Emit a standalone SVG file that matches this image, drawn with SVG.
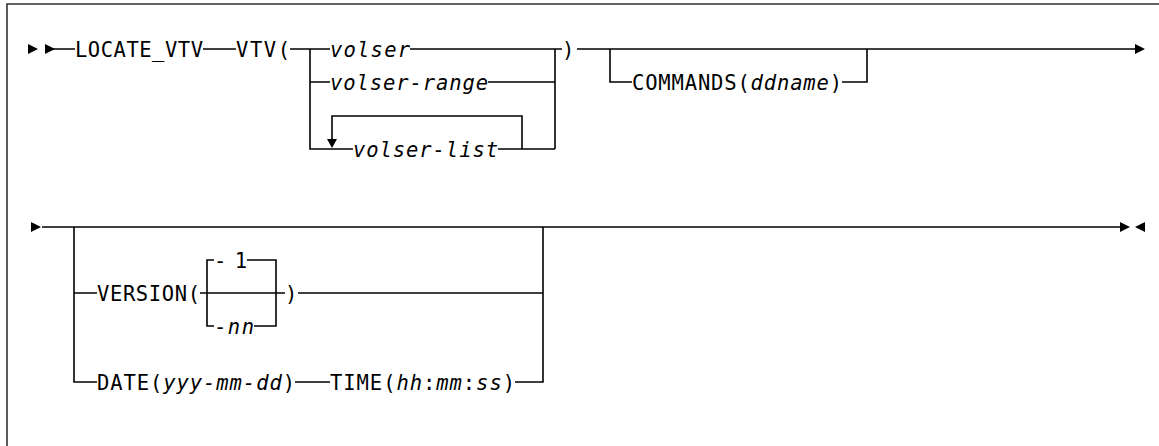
<svg xmlns="http://www.w3.org/2000/svg" width="1159" height="446" viewBox="0 0 1159 446">
<style>
.ln{fill:none;stroke:#000;stroke-width:1.6}
.fr{fill:none;stroke:#333;stroke-width:1.6}
text{font-family:"DejaVu Sans Mono","Liberation Mono",monospace;font-size:20.5px;fill:#000}
.i{font-style:italic}
.ah{fill:#000}
</style>
<defs>
<path id="ar" d="M0,-5 L10,0 L0,5 Z"/>
<path id="al" d="M0,0 L10,-5 L10,5 Z"/>
<path id="ad" d="M-5,0 L5,0 L0,9 Z"/>
</defs>
<rect width="1159" height="446" fill="#fff"/>
<path class="fr" d="M7,446 V4 H1159"/>
<g id="connectors">
<path class="ln" d="M45,49 H75 M203,49 H236 M290,49 H330 M410,49 H562 M577,49 H1135"/>
<path class="ln" d="M310,49 V149 H353 M310,82 H330 M488,82 H555 M498,149 H555 M555,49 V149"/>
<path class="ln" d="M522,149 V116 H332 V139"/>
<path class="ln" d="M610,49 V82 H632 M842,82 H867 V49"/>
<path class="ln" d="M42,227 H1120 M74,227 V382 H97 M74,293 H97"/>
<path class="ln" d="M200,293 H285 M298,293 H543 M543,227 V382 H515 M295,382 H330"/>
<path class="ln" d="M207,293 V260 H214 M247,260 H276 V326 H254 M214,326 H207 V293"/>
<use href="#ar" class="ah" x="28" y="49"/>
<use href="#ar" class="ah" x="45" y="49"/>
<use href="#ar" class="ah" x="1135" y="49"/>
<use href="#ad" class="ah" x="332" y="139"/>
<use href="#ar" class="ah" x="31" y="227"/>
<use href="#ar" class="ah" x="1120" y="227"/>
<use href="#al" class="ah" x="1135" y="227"/>
</g>
<g id="locate_vtv"><text x="75" y="56.5" textLength="128" lengthAdjust="spacing">LOCATE_VTV</text></g>
<g id="vtv"><text x="236" y="56.5" textLength="54" lengthAdjust="spacing">VTV(</text></g>
<g id="volser"><text class="i" x="330" y="56.5" textLength="80" lengthAdjust="spacing">volser</text></g>
<g id="volser-range"><text class="i" x="330" y="89.5" textLength="158" lengthAdjust="spacing">volser-range</text></g>
<g id="volser-list"><text class="i" x="353" y="156.5" textLength="145" lengthAdjust="spacing">volser-list</text></g>
<g id="close1"><text x="562" y="56.5">)</text></g>
<g id="commands"><text x="632" y="89.5" textLength="210" lengthAdjust="spacing">COMMANDS(<tspan class="i">ddname</tspan>)</text></g>
<g id="version"><text x="97" y="300.5" textLength="103" lengthAdjust="spacing">VERSION(</text></g>
<g id="v-1"><text x="214" y="267.5" textLength="33" lengthAdjust="spacing">-1</text></g>
<g id="v-nn"><text x="214" y="333.5" textLength="40" lengthAdjust="spacing">-<tspan class="i">nn</tspan></text></g>
<g id="close2"><text x="285" y="300.5">)</text></g>
<g id="date"><text x="97" y="389.5" textLength="198" lengthAdjust="spacing">DATE(<tspan class="i">yyy-mm-dd</tspan>)</text></g>
<g id="time"><text x="330" y="389.5" textLength="185" lengthAdjust="spacing">TIME(<tspan class="i">hh</tspan>:<tspan class="i">mm</tspan>:<tspan class="i">ss</tspan>)</text></g>
</svg>
